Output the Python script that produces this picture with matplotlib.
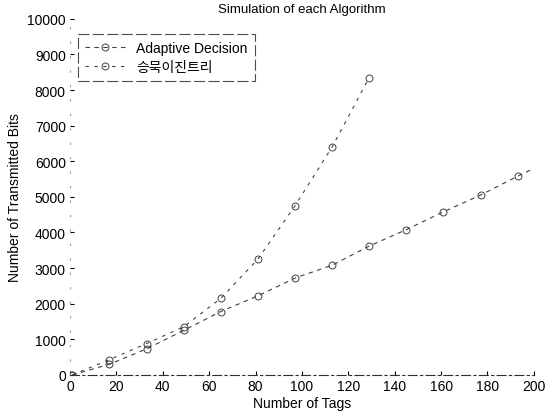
import numpy as np
import matplotlib
matplotlib.use("Agg")
import matplotlib.pyplot as plt

plt.rcParams['font.family'] = ['Liberation Sans', 'Noto Sans CJK KR', 'DejaVu Sans']

# 데이터
tags_adaptive = [1, 17, 33, 49, 65, 81, 97, 113, 129, 145, 161, 177, 193, 200]
bits_adaptive = [0, 300, 730, 1250, 1780, 2220, 2720, 3080, 3620, 4080, 4580, 5050, 5580, 5800]

tags_binary = [1, 17, 33, 49, 65, 81, 97, 113, 129]
bits_binary = [0, 430, 880, 1350, 2150, 3250, 4750, 6400, 8350]

labels = ["Adaptive Decision", "승묵이진트리"]
xticks = np.arange(0, 201, 20)
yticks = np.arange(0, 10001, 1000)

fig = plt.figure(figsize=(5.47, 4.14), dpi=100)
ax = fig.add_axes([0.128, 0.092, 0.848, 0.86])

line_kw = dict(color='#404040', lw=0.8, marker='o', ms=5, mfc='none', mew=0.7)
ax.plot(tags_adaptive, bits_adaptive, linestyle=(0, (4, 4)),
        markevery=list(range(len(tags_adaptive) - 1)), label=labels[0], **line_kw)
ax.plot(tags_binary, bits_binary, linestyle=(0, (3, 5)), label=labels[1], **line_kw)

ax.set_xlim(0, 200)
ax.set_ylim(0, 10000)
ax.set_xticks(xticks)
ax.set_yticks(yticks)
ax.tick_params(direction='in', length=3, labelsize=10, pad=3, top=False, right=False)

for s in ['top', 'right']:
    ax.spines[s].set_visible(False)
ax.spines['bottom'].set_linestyle((0, (8, 3, 2, 3)))
ax.spines['bottom'].set_color('#303030')
ax.spines['left'].set_linestyle((0, (1, 12)))
ax.spines['left'].set_color('#999999')

ax.set_title("Simulation of each Algorithm", fontsize=9.5, pad=5)
ax.set_xlabel("Number of Tags", fontsize=10, labelpad=2)
ax.set_ylabel("Number of Transmitted Bits", fontsize=10, labelpad=4)

leg = ax.legend(loc='upper left', bbox_to_anchor=(0.017, 0.958), borderaxespad=0,
                fontsize=10, handlelength=2.9, handletextpad=0.8, borderpad=0.5,
                labelspacing=0.35, fancybox=False)
leg.get_frame().set_edgecolor('#202020')
leg.get_frame().set_linestyle((0, (10, 3)))
leg.get_frame().set_linewidth(0.8)

fig.savefig("out.png", dpi=100)
